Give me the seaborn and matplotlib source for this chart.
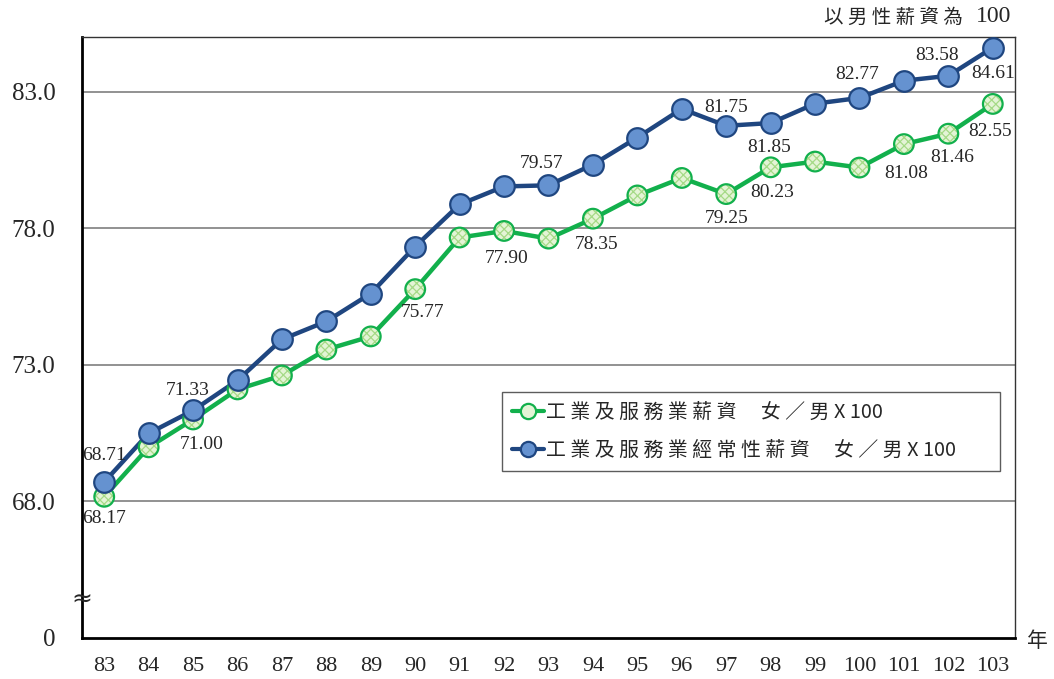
import numpy as np
import pandas as pd
import seaborn as sns
import matplotlib.pyplot as plt
from matplotlib.lines import Line2D

# 年度 (民國)
years = ['83', '84', '85', '86', '87', '88', '89', '90', '91', '92', '93',
         '94', '95', '96', '97', '98', '99', '100', '101', '102', '103']

# 工業及服務業薪資 女/男 x100
total_pay = [68.17, 69.98, 71.00, 72.10, 72.61, 73.56, 74.04, 75.77, 77.66, 77.90, 77.62,
             78.35, 79.20, 79.84, 79.25, 80.23, 80.44, 80.22, 81.08, 81.46, 82.55]
# 工業及服務業經常性薪資 女/男 x100
regular_pay = [68.71, 70.49, 71.33, 72.43, 73.93, 74.59, 75.61, 77.33, 78.87, 79.53, 79.57,
               80.33, 81.32, 82.37, 81.75, 81.85, 82.56, 82.77, 83.40, 83.58, 84.61]

label_green = '工 業 及 服 務 業 薪 資　 女 ／ 男 X 100'
label_blue = '工 業 及 服 務 業 經 常 性 薪 資　 女 ／ 男 X 100'

# which points get a value label, and (dx, dy) offset in pixels
green_labels = {0: (0, -22), 2: (9, -25), 7: (7, -23), 9: (3, -28), 11: (4, -26),
                14: (0, -24), 15: (2, -25), 18: (2, -29), 19: (4, -24), 20: (-3, -28)}
blue_labels = {0: (0, 27), 2: (-5, 20), 10: (-7, 22), 14: (0, 18), 15: (-2, -24),
               17: (-2, 23), 19: (-11, 20), 20: (0, -26)}

sns.set_style('white')
plt.rcParams['font.family'] = ['Liberation Serif', 'Noto Sans CJK TC']
cjk = ['Noto Sans CJK TC', 'DejaVu Sans']

GREEN = '#12b04c'
GREEN_FILL = '#e4f4d6'
GREEN_HATCH = '#a5da86'
BLUE = '#1f4680'
BLUE_FILL = '#6592d0'

df = pd.DataFrame({
    'x': list(range(len(years))) * 2,
    'v': total_pay + regular_pay,
    's': ['g'] * len(years) + ['b'] * len(years),
})

fig = plt.figure(figsize=(10.54, 6.79), dpi=100)
ax = fig.add_axes([82 / 1054, 41 / 679, 933 / 1054, 601 / 679])

sns.lineplot(data=df[df.s == 'g'], x='x', y='v', color=GREEN, lw=3.2, ax=ax, zorder=3)
sns.lineplot(data=df[df.s == 'b'], x='x', y='v', color=BLUE, lw=3.2, ax=ax, zorder=3)

xs = np.arange(len(years))
plt.rcParams['hatch.linewidth'] = 0.9
ax.scatter(xs, total_pay, s=200, facecolor=GREEN_FILL, edgecolor=GREEN_HATCH, hatch='xxxx',
           linewidth=0, zorder=4)
ax.scatter(xs, total_pay, s=200, facecolor='none', edgecolor=GREEN, linewidth=1.6, zorder=5)
ax.scatter(xs, regular_pay, s=220, facecolor=BLUE_FILL, edgecolor=BLUE, linewidth=1.6, zorder=5)

for i, (dx, dy) in green_labels.items():
    ax.annotate(f'{total_pay[i]:.2f}', (i, total_pay[i]), xytext=(dx * 0.72, dy * 0.72),
                textcoords='offset points', ha='center', va='center', fontsize=14, zorder=6)
for i, (dx, dy) in blue_labels.items():
    ax.annotate(f'{regular_pay[i]:.2f}', (i, regular_pay[i]), xytext=(dx * 0.72, dy * 0.72),
                textcoords='offset points', ha='center', va='center', fontsize=14, zorder=6)

ax.set_xlim(-0.5, len(years) - 0.5)
ax.set_ylim(63, 85)
ax.set_yticks([63, 68, 73, 78, 83])
ax.set_yticklabels(['0', '68.0', '73.0', '78.0', '83.0'], fontsize=18)
ax.set_xticks(xs)
ax.set_xticklabels(years, fontsize=16)
ax.set_xticks(np.arange(-0.5, len(years)), minor=True)
ax.tick_params(axis='x', which='major', length=0, pad=14)
ax.tick_params(axis='x', which='minor', length=5, width=1, direction='out', color='black')
ax.tick_params(axis='y', length=6, width=1, direction='out', color='#555555', pad=13)
ax.set_xlabel('')
ax.set_ylabel('')

for yv in [68, 73, 78, 83]:
    ax.axhline(yv, color='#7f7f7f', lw=1.2, zorder=1)

for side in ['left', 'bottom']:
    ax.spines[side].set_color('black')
    ax.spines[side].set_linewidth(2)
for side in ['top', 'right']:
    ax.spines[side].set_color('#333333')
    ax.spines[side].set_linewidth(1)

# axis break mark
ax.text(-0.5, 64.4, '≈', ha='center', va='center', fontsize=18, family=['DejaVu Sans'],
        zorder=7, clip_on=False)

ax.text(1.013, -0.005, '年', transform=ax.transAxes, ha='left', va='center',
        fontsize=15, family=cjk)
fig.text(963 / 1054, 1 - 17 / 679, '以 男 性 薪 資 為', ha='right', va='center',
         fontsize=14, family=cjk)
fig.text(1011 / 1054, 1 - 17 / 679, '100', ha='right', va='center', fontsize=17)

handles = [
    Line2D([], [], color=GREEN, lw=3, marker='o', markersize=11, markerfacecolor=GREEN_FILL,
           markeredgecolor=GREEN, markeredgewidth=1.6),
    Line2D([], [], color=BLUE, lw=3, marker='o', markersize=11, markerfacecolor=BLUE_FILL,
           markeredgecolor=BLUE, markeredgewidth=1.6),
]
x0 = (502 - 82) / 933
y0 = (638 - 472) / 601
leg = ax.legend(handles, [label_green, label_blue], loc='upper left',
                bbox_to_anchor=(x0, y0, (1000 - 502) / 933, (472 - 392) / 601), mode='expand',
                frameon=True, fancybox=False, edgecolor='#333333', handlelength=1.6,
                handletextpad=0.1, borderpad=0.5, borderaxespad=0, labelspacing=0.85,
                prop={'family': cjk, 'size': 14.3})
leg.get_frame().set_linewidth(1)
leg.set_zorder(8)

fig.savefig('out.png', dpi=100)
